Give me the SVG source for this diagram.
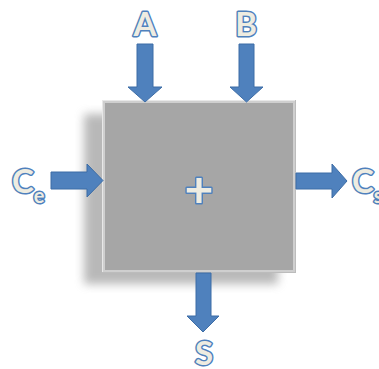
<svg xmlns="http://www.w3.org/2000/svg" width="379" height="369" viewBox="0 0 379 369">
  <style>
    .arrow { fill: #4f81bd; stroke: #3d6da6; stroke-width: 1; stroke-linejoin: miter; }
    .label { font-family: Lato, "Open Sans", "Liberation Sans", sans-serif; font-weight: bold; fill: #eeece1; stroke: #4f81bd; stroke-width: 3; paint-order: stroke; stroke-linejoin: round; }
  </style>
  <defs>
    <filter id="soft" x="-20%" y="-20%" width="140%" height="140%">
      <feGaussianBlur stdDeviation="5"/>
    </filter>
  </defs>
  <rect width="379" height="369" fill="#ffffff"/>

  <!-- mixer block -->
  <g id="block">
    <rect x="84" y="114" width="194" height="170" fill="#8a8a8a" opacity="0.6" filter="url(#soft)"/>
    <rect x="102" y="100" width="194" height="173" fill="#cfcfcf"/>
    <rect x="105" y="103" width="188" height="167" fill="#a6a6a6"/>
    <line x1="102.5" y1="100" x2="102.5" y2="273" stroke="#e8e8e8" stroke-width="1"/>
    <line x1="102" y1="100.5" x2="296" y2="100.5" stroke="#e8e8e8" stroke-width="1"/>
    <line x1="295.5" y1="100" x2="295.5" y2="273" stroke="#bcbcbc" stroke-width="1"/>
    <line x1="102" y1="272.5" x2="296" y2="272.5" stroke="#bcbcbc" stroke-width="1"/>
    <text class="label" x="199" y="207" font-size="50" text-anchor="middle">+</text>
  </g>

  <!-- flows -->
  <g id="connectors">
    <polygon class="arrow" points="137,44 153,44 153,87 162,87 145,102 128,87 137,87"/>
    <polygon class="arrow" points="239,44 254,44 254,87 263,87 246.5,102 230,87 239,87"/>
    <polygon class="arrow" points="51,172 87,172 87,164 103,180.5 87,197 87,189 51,189"/>
    <polygon class="arrow" points="296,173 332,173 332,164 347,181 332,198 332,189 296,189"/>
    <polygon class="arrow" points="196,273 211,273 211,316 219,316 203,332 187,316 196,316"/>
  </g>

  <g id="label-A"><text class="label" x="145" y="36" font-size="33" text-anchor="middle">A</text></g>
  <g id="label-B"><text class="label" x="246" y="36" font-size="33" text-anchor="middle">B</text></g>
  <g id="label-Ce">
    <text class="label" x="12" y="193" font-size="33">C<tspan font-size="20" dy="10">e</tspan></text>
  </g>
  <g id="label-Cs">
    <text class="label" x="352" y="193" font-size="33">C<tspan font-size="20" dy="10">s</tspan></text>
  </g>
  <g id="label-S"><text class="label" x="204" y="365" font-size="33" text-anchor="middle">S</text></g>
</svg>
